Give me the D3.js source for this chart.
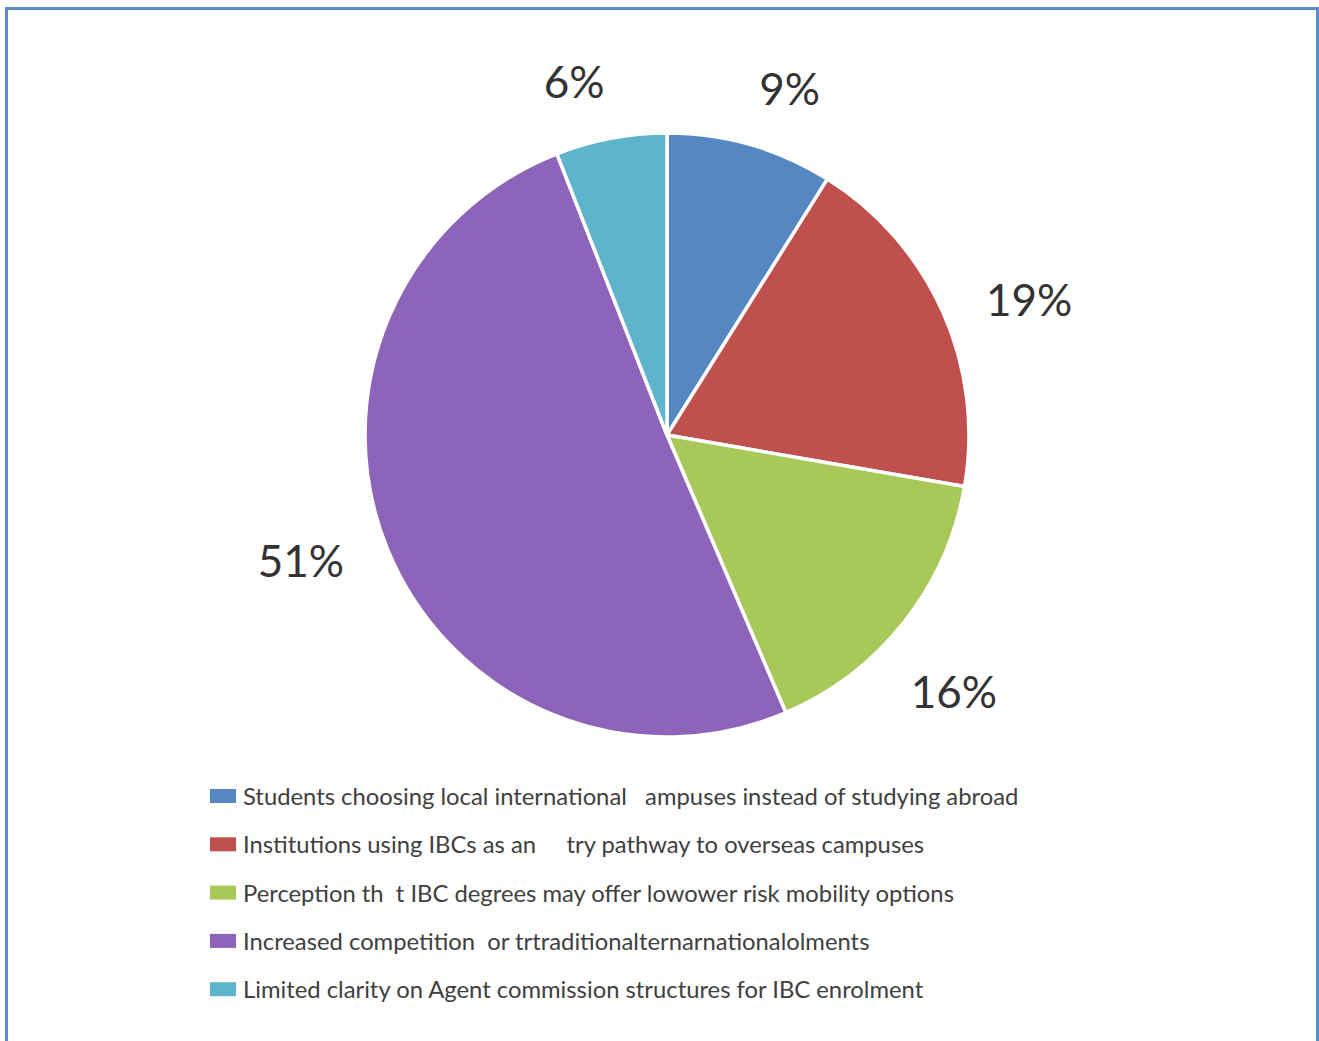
<!DOCTYPE html>
<html>
<head>
<meta charset="utf-8">
<script src="https://cdn.jsdelivr.net/npm/d3@7/dist/d3.min.js"></script>
<style>
  html, body { margin: 0; padding: 0; background: #fff; }
  svg { display: block; }
</style>
</head>
<body>
<svg id="chart" width="1319" height="1041"></svg>
<script>
// Share of responses per factor (percent, as labelled)
const categories = [
  "Students choosing local international   ampuses instead of studying abroad",
  "Institutions using IBCs as an     try pathway to overseas campuses",
  "Perception th  t IBC degrees may offer lowower risk mobility options",
  "Increased competition  or trtraditionalternarnationalolments",
  "Limited clarity on Agent commission structures for IBC enrolment"
];
const values = [9, 19, 16, 51, 6];
const colors = ["#5587C2", "#C0504D", "#A8C85A", "#8E63BA", "#5EB4CB"];

const svg = d3.select("#chart");

// Outer frame
svg.append("rect")
  .attr("x", 6.5).attr("y", 8.5)
  .attr("width", 1311).attr("height", 1100)
  .attr("fill", "none")
  .attr("stroke", "#5B8BC9")
  .attr("stroke-width", 3);

const cx = 667, cy = 435, R = 302;

const pie = d3.pie().sort(null).value(d => d);
const arcs = pie(values);
const arc = d3.arc().innerRadius(0).outerRadius(R);

const g = svg.append("g").attr("transform", `translate(${cx},${cy})`);

g.selectAll("path.slice")
  .data(arcs)
  .join("path")
  .attr("class", "slice")
  .attr("d", arc)
  .attr("fill", (d, i) => colors[i])
  .attr("stroke", "#fff")
  .attr("stroke-width", 3.5)
  .attr("stroke-linejoin", "round");

// Percentage labels placed just outside the rim near each slice's mid-angle.
// Labels are turned slightly clockwise; the last one is turned back so the
// two labels either side of 12 o'clock keep apart.
const labelFont = 44;
const labels = g.selectAll("text.pct")
  .data(arcs)
  .join("text")
  .attr("class", "pct")
  .attr("font-family", "Lato, 'Open Sans', sans-serif")
  .attr("font-size", labelFont)
  .attr("fill", "#333")
  .attr("text-anchor", "middle")
  .attr("dominant-baseline", "central")
  .text(d => d.data + "%");

labels.each(function(d, i) {
  const bb = this.getBBox();
  const turn = i === arcs.length - 1 ? -0.07 : 0.06;
  const a = (d.startAngle + d.endAngle) / 2 + turn;
  const sx = Math.sin(a), cy_ = -Math.cos(a);
  const ext = Math.abs(sx) * bb.width / 2 + Math.abs(cy_) * bb.height * 0.36;
  const dist = R + 38 + ext;
  d3.select(this).attr("x", sx * dist).attr("y", cy_ * dist);
});

// Legend
const legendX = 210, legendY0 = 796, legendStep = 48.3;
const legend = svg.append("g");
const items = legend.selectAll("g.item")
  .data(categories)
  .join("g")
  .attr("class", "item")
  .attr("transform", (d, i) => `translate(${legendX},${legendY0 + i * legendStep})`);

items.append("rect")
  .attr("x", 0).attr("y", -7)
  .attr("width", 26).attr("height", 14)
  .attr("fill", (d, i) => colors[i]);

items.append("text")
  .attr("x", 33).attr("y", 0)
  .attr("dominant-baseline", "central")
  .attr("font-family", "Lato, 'Open Sans', sans-serif")
  .attr("font-size", 23.8)
  .attr("fill", "#404040")
  .style("white-space", "pre")
  .text(d => d);
</script>
</body>
</html>
